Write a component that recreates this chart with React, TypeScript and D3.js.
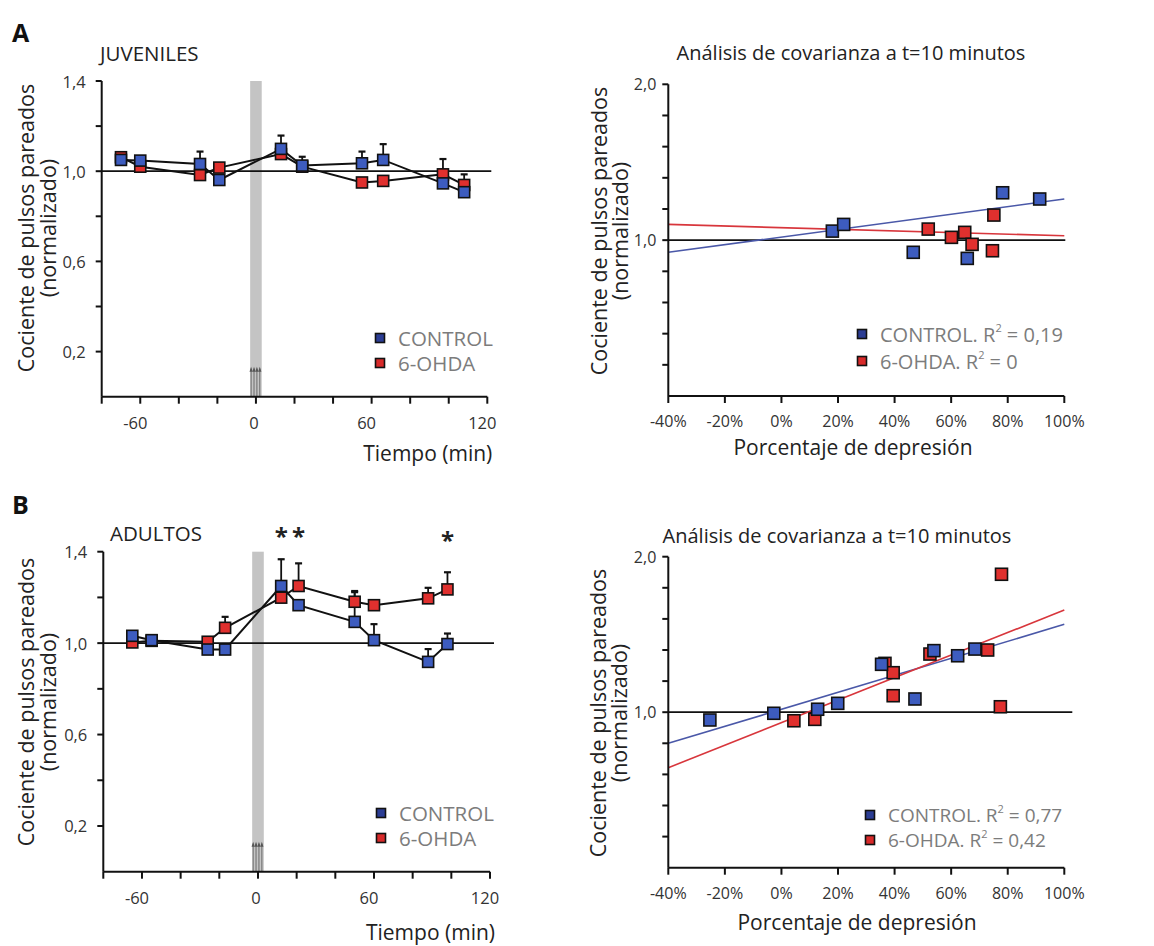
import React from 'react';
import * as d3 from 'd3';

// Panel A (juveniles) time course
const juvTime = [-70, -60, -29, -19, 13, 24, 55, 66, 97, 108];
const juvControl = [1.05, 1.047, 1.032, 0.961, 1.099, 1.025, 1.035, 1.05, 0.946, 0.907];
const juvControlErr = [0, 0, 0.055, 0, 0.059, 0.039, 0.052, 0.07, 0, 0];
const juvOhda = [1.062, 1.02, 0.983, 1.016, 1.076, 1.02, 0.95, 0.957, 0.986, 0.939];
const juvOhdaErr = [0, 0, 0, 0, 0, 0, 0, 0, 0.068, 0.047];

// Panel B (adults) time course
const adTime = [-65, -55, -26, -17, 12, 21, 50, 60, 88, 98];
const adControl = [1.032, 1.013, 0.972, 0.972, 1.25, 1.166, 1.093, 1.013, 0.918, 0.996];
const adControlErr = [0, 0, 0, 0, 0.117, 0, 0.13, 0.07, 0.056, 0.046];
const adOhda = [1.003, 1.01, 1.006, 1.067, 1.199, 1.25, 1.181, 1.166, 1.196, 1.235];
const adOhdaErr = [0, 0, 0, 0.048, 0, 0.099, 0.047, 0, 0.046, 0.075];
const adSignif = [12, 21, 98];

// stimulation (arrows under the grey band)
const stimTimes = [-2.5, -1, 0.5, 2];
const stimBand = [-3, 3];

// covariance, juveniles
const covAControlX = [18, 22, 46.6, 65.7, 78.2, 91.3];
const covAControlY = [1.058, 1.101, 0.922, 0.883, 1.304, 1.264];
const covAOhdaX = [51.9, 60.1, 64.8, 67.4, 75.1, 74.6];
const covAOhdaY = [1.071, 1.018, 1.05, 0.973, 1.161, 0.932];
const fitAControl = [0.922, 1.264];
const fitAOhda = [1.101, 1.028];
const r2A = ['0,19', '0'];

// covariance, adults
const covBControlX = [-25.3, -2.7, 12.8, 19.9, 35.4, 47.2, 53.9, 62.3, 68.4];
const covBControlY = [0.95, 0.993, 1.019, 1.057, 1.308, 1.085, 1.396, 1.363, 1.406];
const covBOhdaX = [4.4, 11.8, 36.6, 39.5, 39.5, 52.5, 72.9, 77.8, 77.4];
const covBOhdaY = [0.945, 0.954, 1.314, 1.254, 1.106, 1.374, 1.4, 1.887, 1.035];
const fitBControl = [0.8, 1.565];
const fitBOhda = [0.643, 1.657];
const r2B = ['0,77', '0,42'];

const timeXLabels = [-60, 0, 60, 120];
const timeYLabels = [0.2, 0.6, 1.0, 1.4];
const covXTicks = [-40, -20, 0, 20, 40, 60, 80, 100];
const covYLabels = [1.0, 2.0];

const FONT = '"Open Sans", "Noto Sans", sans-serif';
const BLUE = '#3d5cbf';
const RED = '#e0302e';
const LEG_BLUE = '#2b3d94';
const LEG_RED = '#d82a2a';
const GREY_TXT = '#7c7c7c';
const comma = (v: number) => d3.format('.1f')(v).replace('.', ',');

const Sq = ({ cx, cy, fill, s = 11 }: any) => (
  <rect x={cx - s / 2} y={cy - s / 2} width={s} height={s} fill={fill} stroke="#111" strokeWidth={1.6} />
);

const YLabel = ({ x1, x2, cy }: any) => (
  <g fontFamily={FONT} fontSize={21.5} fill="#222" textAnchor="middle" dominantBaseline="central">
    <text transform={`translate(${x1},${cy}) rotate(-90)`}>Cociente de pulsos pareados</text>
    <text transform={`translate(${x2},${cy}) rotate(-90)`}>(normalizado)</text>
  </g>
);

function TimePanel(p: any) {
  const x = d3.scaleLinear().domain([-80, 120]).range([p.left, p.right]);
  const y = d3.scaleLinear().domain([0, 1.4]).range([p.bottom, p.top]);
  const line = d3.line<[number, number]>().x(d => x(d[0])).y(d => y(d[1]));
  const series = [
    { v: p.ohda, e: p.ohdaErr, c: RED },
    { v: p.ctrl, e: p.ctrlErr, c: BLUE },
  ];
  const xt = d3.range(-80, 121, 20);
  const yt = y.ticks(7);
  return (
    <g>
      <rect x={x(stimBand[0])} y={p.top} width={x(stimBand[1]) - x(stimBand[0])} height={p.bottom - p.top} fill="#c4c4c4" />
      {stimTimes.map((t, i) => (
        <g key={i} stroke="#555" fill="#555">
          <line x1={x(t)} x2={x(t)} y1={p.bottom} y2={p.bottom - 28} strokeWidth={0.8} />
          <path d={`M${x(t)},${p.bottom - 30} l-1.6,5 h3.2 z`} stroke="none" />
        </g>
      ))}
      <line x1={p.left} x2={p.right + 4} y1={y(1)} y2={y(1)} stroke="#111" strokeWidth={1.8} />
      {series.map((s, k) => (
        <path key={k} d={line(p.time.map((t: number, i: number) => [t, s.v[i]])) || ''} fill="none" stroke="#111" strokeWidth={2} />
      ))}
      {series.map((s, k) =>
        p.time.map((t: number, i: number) =>
          s.e[i] > 0 ? (
            <g key={`${k}-${i}`} stroke="#111" strokeWidth={1.8}>
              <line x1={x(t)} x2={x(t)} y1={y(s.v[i])} y2={y(s.v[i] + s.e[i])} />
              <line x1={x(t) - 3.5} x2={x(t) + 3.5} y1={y(s.v[i] + s.e[i])} y2={y(s.v[i] + s.e[i])} strokeWidth={2.2} />
            </g>
          ) : null
        )
      )}
      {series.map((s, k) =>
        p.time.map((t: number, i: number) => <Sq key={`s${k}-${i}`} cx={x(t)} cy={y(s.v[i])} fill={s.c} />)
      )}
      {/* axes */}
      <g stroke="#111" strokeWidth={2}>
        <line x1={p.left} x2={p.left} y1={p.top} y2={p.bottom} />
        <line x1={p.left} x2={p.right} y1={p.bottom} y2={p.bottom} />
        {yt.filter(v => v > 0).map(v => (
          <line key={v} x1={p.left - 6} x2={p.left} y1={y(v)} y2={y(v)} />
        ))}
        {xt.map(v => (
          <line key={v} x1={x(v)} x2={x(v)} y1={p.bottom} y2={p.bottom + 7} />
        ))}
      </g>
      <g fontFamily={FONT} fontSize={16.5} fill="#333">
        {timeYLabels.map(v => (
          <text key={v} x={p.left - 16} y={y(v)} textAnchor="end" dominantBaseline="central">{comma(v)}</text>
        ))}
        {timeXLabels.map(v => (
          <text key={v} x={x(v) - (v === 0 ? 2 : 5)} y={p.bottom + 26} textAnchor="middle" dominantBaseline="central">{v}</text>
        ))}
      </g>
      <text x={p.right + 5} y={p.xTitleY} fontFamily={FONT} fontSize={21} fill="#222" textAnchor="end" dominantBaseline="central">Tiempo (min)</text>
      <text x={p.titleX} y={p.titleY} fontFamily={FONT} fontSize={20.5} fill="#222" dominantBaseline="central">{p.title}</text>
      <g fontFamily={FONT} fontSize={20.5} fill={GREY_TXT} dominantBaseline="central">
        <Sq cx={p.legX} cy={p.legY[0]} fill={LEG_BLUE} s={9} />
        <Sq cx={p.legX} cy={p.legY[1]} fill={LEG_RED} s={9} />
        <text x={p.legX + 18} y={p.legY[0]}>CONTROL</text>
        <text x={p.legX + 18} y={p.legY[1]}>6-OHDA</text>
      </g>
    </g>
  );
}

function CovPanel(p: any) {
  const x = d3.scaleLinear().domain([-40, 100]).range([p.left, p.right]);
  const y = d3.scaleLinear().domain([0, 2]).range([p.bottom, p.top]);
  const yt = y.ticks(10).filter(v => v > 0);
  const fit = (f: number[]) => d3.line<[number, number]>().x(d => x(d[0])).y(d => y(d[1]))([[-40, f[0]], [100, f[1]]]) || '';
  return (
    <g>
      <line x1={p.left} x2={p.right + p.refExtra} y1={y(1)} y2={y(1)} stroke="#111" strokeWidth={1.8} />
      <path d={fit(p.fitC)} stroke="#4a58a8" strokeWidth={1.6} fill="none" />
      <path d={fit(p.fitO)} stroke="#d8363c" strokeWidth={1.6} fill="none" />
      {p.ox.map((v: number, i: number) => <Sq key={`o${i}`} cx={x(v)} cy={y(p.oy[i])} fill={RED} s={12} />)}
      {p.cx.map((v: number, i: number) => <Sq key={`c${i}`} cx={x(v)} cy={y(p.cy[i])} fill={BLUE} s={12} />)}
      <g stroke="#111" strokeWidth={2}>
        <line x1={p.left} x2={p.left} y1={p.top} y2={p.bottom} />
        <line x1={p.left} x2={p.right} y1={p.bottom} y2={p.bottom} />
        {yt.map(v => <line key={v} x1={p.left - 6} x2={p.left} y1={y(v)} y2={y(v)} />)}
        {covXTicks.map(v => <line key={v} x1={x(v)} x2={x(v)} y1={p.bottom} y2={p.bottom + 7} />)}
      </g>
      <g fontFamily={FONT} fontSize={16} fill="#333">
        {covYLabels.map(v => (
          <text key={v} x={p.left - 12} y={y(v)} textAnchor="end" dominantBaseline="central">{comma(v)}</text>
        ))}
        {covXTicks.map(v => (
          <text key={v} x={x(v)} y={p.bottom + 25} textAnchor="middle" dominantBaseline="central">{v}%</text>
        ))}
      </g>
      <text x={p.xTitleX} y={p.xTitleY} fontFamily={FONT} fontSize={21} fill="#222" textAnchor="middle" dominantBaseline="central">Porcentaje de depresión</text>
      <text x={p.titleX} y={p.titleY} fontFamily={FONT} fontSize={20} fill="#222" textAnchor="middle" dominantBaseline="central">Análisis de covarianza a t=10 minutos</text>
      <g fontFamily={FONT} fontSize={p.legFont} fill={GREY_TXT} dominantBaseline="central">
        <Sq cx={p.legX} cy={p.legY[0]} fill={LEG_BLUE} s={9} />
        <Sq cx={p.legX} cy={p.legY[1]} fill={LEG_RED} s={9} />
        <text x={p.legX + 18} y={p.legY[0]}>
          CONTROL. R<tspan dy={-7} fontSize={11}>2</tspan><tspan dy={7}> = {p.r2[0]}</tspan>
        </text>
        <text x={p.legX + 18} y={p.legY[1]}>
          6-OHDA. R<tspan dy={-7} fontSize={11}>2</tspan><tspan dy={7}> = {p.r2[1]}</tspan>
        </text>
      </g>
    </g>
  );
}

export default function App() {
  const xB = d3.scaleLinear().domain([-80, 120]).range([103.3, 490]);
  return (
    <svg width={1154} height={946} style={{ position: 'absolute', left: 0, top: 0, background: '#fff' }}>
      <rect width={1154} height={946} fill="#fff" />
      <text x={12} y={32} fontFamily={FONT} fontSize={25} fontWeight="bold" fill="#111" dominantBaseline="central">A</text>
      <text x={12} y={504} fontFamily={FONT} fontSize={25} fontWeight="bold" fill="#111" dominantBaseline="central">B</text>

      <YLabel x1={25} x2={47} cy={228} />
      <TimePanel left={101.7} right={487.3} top={81} bottom={396.7} time={juvTime}
        ctrl={juvControl} ctrlErr={juvControlErr} ohda={juvOhda} ohdaErr={juvOhdaErr}
        title="JUVENILES" titleX={100} titleY={53} xTitleY={453} legX={380} legY={[338, 363]} />

      <YLabel x1={598} x2={619} cy={231} />
      <CovPanel left={668.3} right={1064.3} top={84.3} bottom={396} refExtra={1}
        cx={covAControlX} cy={covAControlY} ox={covAOhdaX} oy={covAOhdaY}
        fitC={fitAControl} fitO={fitAOhda} r2={r2A} legFont={20}
        titleX={851} titleY={52} xTitleX={853} xTitleY={447} legX={862} legY={[334, 361]} />

      <YLabel x1={25} x2={47} cy={702} />
      <TimePanel left={103.3} right={490} top={551.7} bottom={871.7} time={adTime}
        ctrl={adControl} ctrlErr={adControlErr} ohda={adOhda} ohdaErr={adOhdaErr}
        title="ADULTOS" titleX={110} titleY={533} xTitleY={931.7} legX={381} legY={[813, 838]} />
      {adSignif.map((t, i) => (
        <text key={i} x={xB(t)} y={i < 2 ? 545 : 549} fontFamily={FONT} fontSize={24} fontWeight="bold" fill="#222" textAnchor="middle">*</text>
      ))}

      <YLabel x1={597} x2={618} cy={713} />
      <CovPanel left={668.3} right={1064.3} top={556.7} bottom={867.7} refExtra={8}
        cx={covBControlX} cy={covBControlY} ox={covBOhdaX} oy={covBOhdaY}
        fitC={fitBControl} fitO={fitBOhda} r2={r2B} legFont={19}
        titleX={837} titleY={535} xTitleX={857} xTitleY={922} legX={870} legY={[815, 840]} />
    </svg>
  );
}
